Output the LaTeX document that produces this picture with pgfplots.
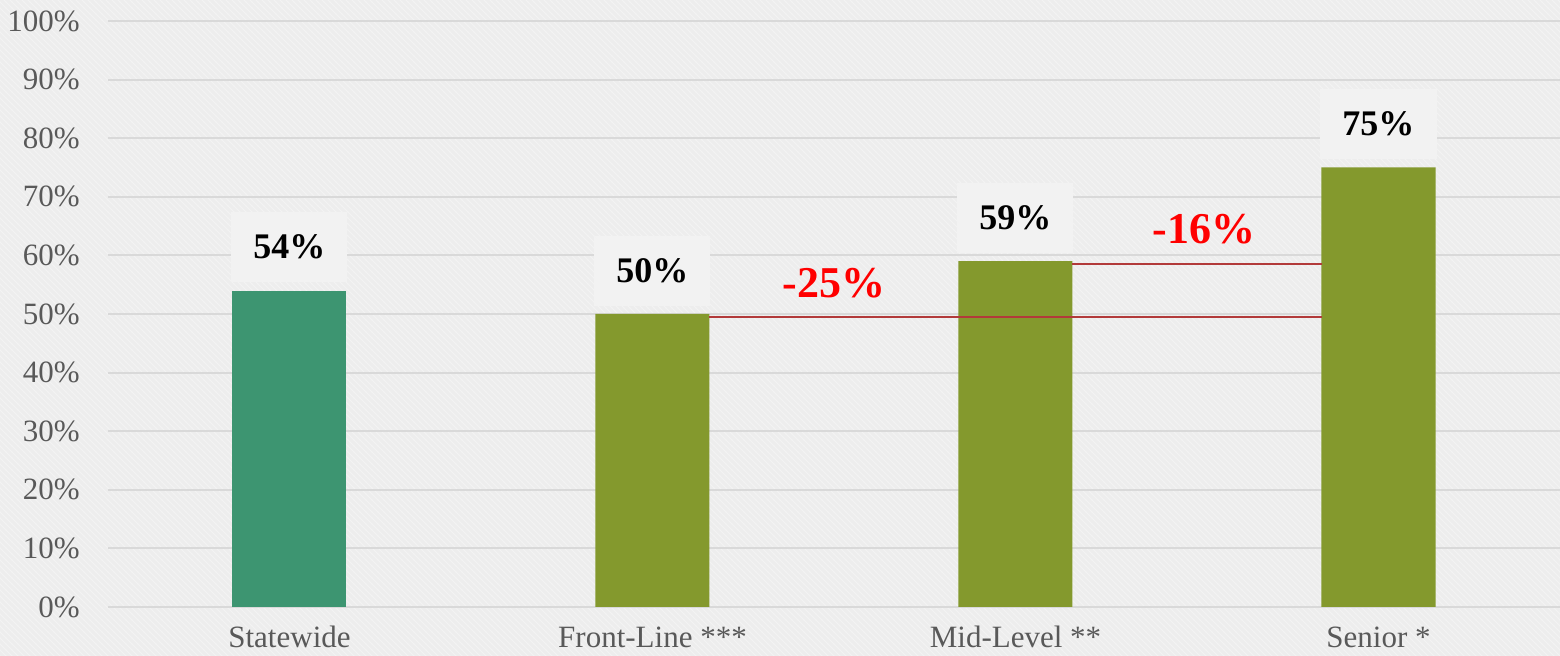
\documentclass[border=0pt]{standalone}
\usepackage{pgfplots}
\pgfplotsset{compat=1.18}
\usepackage{fontspec}
\setmainfont{Liberation Serif}
\usetikzlibrary{patterns}
\definecolor{bg}{HTML}{EDEDED}
\definecolor{gridc}{HTML}{D9D9D9}
\definecolor{barA}{HTML}{3D9571}
\definecolor{barB}{HTML}{84992D}
\definecolor{lbl}{HTML}{F2F2F2}
\definecolor{tickc}{HTML}{595959}
\definecolor{lnred}{HTML}{B23A3A}
\begin{document}
\begin{tikzpicture}
\fill[bg] (-54pt,-24.5pt) rectangle (726pt,303.5pt);
\fill[pattern=north west lines, pattern color=white, opacity=0.35] (-54pt,-24.5pt) rectangle (726pt,303.5pt);
\begin{axis}[
  at={(0,0)}, anchor=south west,
  scale only axis, width=726pt, height=293pt,
  xmin=-0.5, xmax=3.5, ymin=0, ymax=100,
  axis line style={draw=none},
  major tick length=0pt,
  ymajorgrids, grid style={gridc, line width=1pt},
  ytick={0,10,...,100},
  yticklabel={\pgfmathprintnumber{\tick}\%},
  xtick={0,1,2,3},
  xticklabels={Statewide, Front-Line ***, Mid-Level **, Senior *},
  tick label style={font=\fontsize{15.5}{18}\selectfont, text=tickc},
  yticklabel style={anchor=east, inner sep=0pt, xshift=-14pt},
  xticklabel style={anchor=base, inner sep=0pt, yshift=-20.5pt},
  /pgf/number format/assume math mode=true,
  ybar, bar width=57pt, bar shift=0pt,
  nodes near coords={\pgfmathprintnumber{\pgfplotspointmeta}\%},
  nodes near coords style={font=\bfseries\fontsize{18}{20}\selectfont, text=black, fill=lbl, anchor=south, minimum width=58pt, minimum height=35pt, inner sep=0pt, yshift=4pt},
  clip=false,
]
\addplot[fill=barA, draw=none] coordinates {(0,54)};
\addplot[fill=barB, draw=none] coordinates {(1,50) (2,59) (3,75)};
\draw[lnred, line width=1pt] (axis cs:1.157,49.5) -- (axis cs:2.843,49.5);
\draw[lnred, line width=1pt] (axis cs:2.157,58.5) -- (axis cs:2.843,58.5);
\node[text=red, font=\bfseries\fontsize{22}{24}\selectfont] at (axis cs:1.5,55.3) {-25\%};
\node[text=red, font=\bfseries\fontsize{22}{24}\selectfont] at (axis cs:2.52,64.5) {-16\%};
\end{axis}
\pgfresetboundingbox
\path[use as bounding box] (-54pt,-24.5pt) rectangle (726pt,303.5pt);
\end{tikzpicture}
\end{document}
